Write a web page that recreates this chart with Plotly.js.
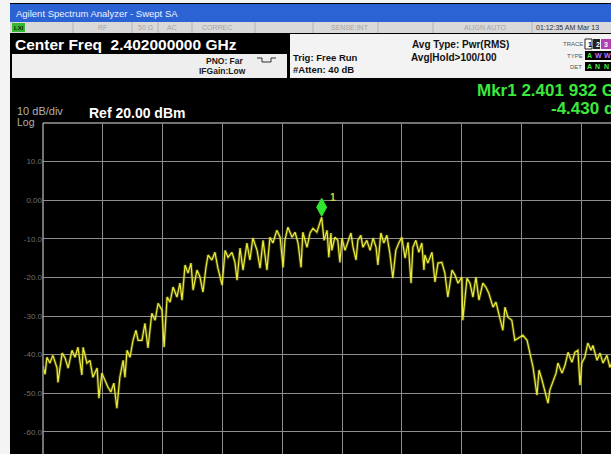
<!DOCTYPE html>
<html><head><meta charset="utf-8">
<script src="https://cdn.plot.ly/plotly-3.0.1.min.js"></script>
<style>html,body{margin:0;padding:0;background:#000;overflow:hidden}#chart{width:611px;height:454px}</style>
</head><body><div id="chart"></div>
<script>
// ---- data ----
const freqMHz = [
2401.000,2401.007,2401.013,2401.023,2401.033,2401.047,2401.050,2401.064,2401.074,2401.084,
2401.097,2401.107,2401.117,2401.130,2401.134,2401.147,2401.157,2401.167,2401.181,2401.187,
2401.197,2401.207,2401.217,2401.227,2401.237,2401.247,2401.257,2401.268,2401.274,2401.281,
2401.291,2401.301,2401.311,2401.318,
2401.331,2401.341,2401.351,2401.364,2401.375,2401.385,2401.398,2401.405,2401.415,2401.425,
2401.435,2401.448,2401.458,2401.465,2401.475,2401.485,2401.495,2401.502,2401.515,2401.525,
2401.535,2401.545,2401.552,2401.565,2401.575,2401.585,2401.599,2401.609,2401.619,2401.632,
2401.642,2401.649,2401.659,2401.669,2401.682,2401.692,2401.702,2401.716,2401.726,2401.736,
2401.749,2401.759,2401.769,2401.782,2401.793,2401.803,2401.809,2401.819,2401.833,2401.843,
2401.853,2401.863,2401.869,2401.883,2401.893,2401.903,2401.916,2401.932,2401.940,2401.950,
2401.956,
2401.963,2401.966,2401.976,2401.986,2401.993,2402.000,2402.010,2402.020,2402.030,2402.037,
2402.047,2402.053,2402.063,2402.070,2402.083,2402.094,2402.104,2402.114,2402.120,2402.130,
2402.140,2402.150,2402.160,2402.170,2402.180,2402.190,2402.200,2402.211,2402.221,2402.231,
2402.237,2402.247,2402.257,2402.267,2402.274,
2402.277,2402.287,2402.301,2402.311,2402.321,2402.334,2402.344,2402.354,2402.368,2402.378,
2402.388,2402.401,2402.404,2402.418,2402.428,2402.438,2402.448,2402.458,2402.471,2402.481,
2402.491,2402.505,2402.515,2402.525,2402.538,2402.545,2402.555,2402.568,2402.578,
2402.588,2402.595,2402.605,2402.619,2402.629,2402.639,2402.652,2402.659,2402.669,2402.679,
2402.689,2402.695,2402.705,2402.716,2402.722,2402.736,2402.746,2402.756,2402.769,2402.779,
2402.789,2402.796,2402.802,2402.812,2402.822,2402.833,2402.839,2402.853,2402.863,2402.873,
2402.886,2402.896,2402.906];
const levelDbm = [
-43.0,-45.1,-40.7,-42.2,-40.2,-43.5,-47.2,-39.6,-40.9,-43.5,
-38.9,-40.7,-38.1,-45.3,-38.1,-42.2,-41.5,-45.9,-43.5,-51.3,
-44.8,-46.6,-48.4,-49.7,-47.4,-53.9,-45.9,-41.5,-45.9,-38.9,
-40.7,-36.3,-33.7,-36.3,
-36.3,-31.9,-38.3,-29.3,-31.1,-26.7,-28.5,-38.1,-25.1,-26.4,
-22.5,-25.1,-21.5,-25.9,-16.8,-18.9,-16.3,-23.3,-18.1,-19.9,
-23.8,-17.4,-14.2,-15.5,-13.5,-17.6,-22.0,-13.0,-14.8,-13.5,
-16.1,-20.7,-12.4,-18.1,-11.1,-15.5,-9.8,-13.0,-17.6,-10.4,
-18.1,-9.6,-11.1,-7.8,-9.6,-17.4,-10.4,-7.0,-9.6,-8.3,
-11.1,-17.4,-8.3,-12.2,-8.5,-7.3,-8.3,-4.43,-10.4,-7.8,
-14.8,
-8.5,-13.0,-9.6,-10.4,-16.1,-9.8,-13.0,-10.9,-8.5,-12.2,
-15.5,-10.4,-9.1,-12.2,-10.4,-13.0,-9.8,-12.2,-16.8,-8.5,
-11.1,-9.1,-13.7,-20.2,-13.0,-11.1,-9.6,-15.0,-10.9,-21.5,
-12.2,-10.4,-13.5,-11.1,-18.1,
-14.2,-16.3,-13.5,-21.2,-16.3,-16.1,-18.9,-25.1,-18.1,-19.4,
-21.5,-19.9,-31.1,-20.2,-21.5,-25.1,-19.9,-25.9,-21.5,-22.5,
-24.1,-27.7,-26.4,-29.3,-33.7,-27.7,-30.3,-31.1,-36.3,
-35.8,-35.5,-35.0,-36.3,-39.6,-43.3,-50.5,-44.0,-46.6,-49.7,
-52.6,-49.2,-47.2,-44.8,-42.2,-44.8,-42.7,-39.4,-42.0,-39.4,
-38.9,-47.9,-42.2,-40.7,-37.0,-38.9,-37.6,-41.5,-39.6,-42.2,
-40.2,-43.3,-41.5];
const yTickVals = [10, 0, -10, -20, -30, -40, -50, -60];
const yTickText = ["10.0", "0.00", "-10.0", "-20.0", "-30.0", "-40.0", "-50.0", "-60.0"];
const refLevelDbm = 20;
const dbPerDiv = 10;
const startMHz = 2401.0;
const mhzPerDiv = 0.2;
const mkrFreqMHz = 2401.932;
const mkrLevelDbm = -4.43;
const statusLabels = ["RF", "50 \u03a9", "AC", "CORREC", "SENSE:INT", "ALIGN AUTO"];

// ---- geometry / style ----
const W = 611, H = 454, L = 43, T = 123;
const pxPerDiv = 59.8, pxPerDb = 3.86;
const visibleDivs = (W - L) / pxPerDiv;
const yBottom = refLevelDbm - (H - T) / pxPerDb;
const px = x => (x - L) / (W - L);
const py = y => (H - y) / (H - T);
const FONT = 'Liberation Sans, Arial, sans-serif';

const shapes = [];
const ann = [];
function rect(x0, y0, x1, y1, fill, lineColor) {
  shapes.push({type: 'rect', xref: 'paper', yref: 'paper', layer: 'above',
    x0: px(x0), x1: px(x1), y0: py(y1), y1: py(y0), fillcolor: fill,
    line: lineColor ? {color: lineColor, width: 1} : {width: 0}});
}
function line(x0, y0, x1, y1, color, w) {
  shapes.push({type: 'line', xref: 'paper', yref: 'paper', layer: 'above',
    x0: px(x0), x1: px(x1), y0: py(y0), y1: py(y1), line: {color: color, width: w || 1}});
}
function txt(text, x, y, size, color, opts) {
  opts = opts || {};
  ann.push({xref: 'paper', yref: 'paper', x: px(x), y: py(y), text: text, showarrow: false,
    xanchor: opts.anchor || 'left', yanchor: 'middle', borderpad: 0,
    font: {family: FONT, size: size, color: color, weight: opts.bold ? 'bold' : 'normal'}});
}

// white frame
rect(0, 0, 10, H, '#f4f4f4');
rect(0, 0, W, 3, '#f4f4f4');
// title bar
rect(10, 4, W, 22, '#2c63d4');
txt('Agilent Spectrum Analyzer - Swept SA', 15, 13.5, 9.5, '#eef2ff');
// status bar
rect(10, 22, W, 33, '#d9d9d9');
rect(12, 23, 25, 32, '#36b836');
txt('LXI', 12.5, 27.5, 6, '#102010', {bold: true});
[73, 132, 158, 192, 255, 313, 378, 433, 532].forEach(x => line(x, 22, x, 33, '#b4b4b4'));
const statusX = [97, 137, 166, 201, 330, 463];
statusLabels.forEach((s, i) => txt(s, statusX[i], 27.5, 7, '#a4a4a4'));
txt('01:12:35 AM Mar 13', 535, 27.5, 7, '#303030');
// center freq block
txt('Center Freq  2.402000000 GHz', 14, 44, 15.5, '#ffffff', {bold: true});
rect(12, 54, 287, 78, '#eeeeee');
txt('PNO: Far', 245, 61, 8.5, '#1a1a1a', {anchor: 'right', bold: true});
txt('IFGain:Low', 247, 71, 8.5, '#1a1a1a', {anchor: 'right', bold: true});
shapes.push({type: 'path', xref: 'paper', yref: 'paper', layer: 'above',
  path: `M${px(257)},${py(58)} L${px(262)},${py(58)} L${px(262)},${py(62)} L${px(271)},${py(62)} L${px(271)},${py(58)} L${px(276)},${py(58)}`,
  line: {color: '#333', width: 1}});
// right info panel
rect(290, 34, W, 78, '#f3f3f3');
txt('Trig: Free Run', 292, 57, 9.5, '#111', {bold: true});
txt('#Atten: 40 dB', 292, 70, 9.5, '#111', {bold: true});
txt('Avg Type: Pwr(RMS)', 411, 44, 10, '#111', {bold: true});
txt('Avg|Hold>100/100', 410, 57, 10, '#111', {bold: true});
txt('TRACE', 562, 44, 6, '#555');
txt('TYPE', 566, 56, 6, '#555');
txt('DET', 569, 67, 6, '#555');
rect(585, 39, 592, 49, '#ffffff', '#222');
txt('1', 586.5, 44, 7, '#000', {bold: true});
rect(593, 39, 600, 49, '#222');
txt('2', 594.5, 44, 7, '#fff', {bold: true});
rect(601, 39, W, 49, '#b040b0');
txt('3', 603, 44, 7, '#fff', {bold: true});
rect(585, 51, W, 60, '#000');
txt('A', 586, 55.5, 7, '#44ee44', {bold: true});
txt('W', 594, 55.5, 7, '#c070ff', {bold: true});
txt('W', 603, 55.5, 7, '#c070ff', {bold: true});
rect(585, 62, W, 71, '#000');
txt('A', 586, 66.5, 7, '#44ee44', {bold: true});
txt('N', 594, 66.5, 7, '#44ee44', {bold: true});
txt('N', 603, 66.5, 7, '#44ee44', {bold: true});
// marker readout (cut by the right edge, as in the reference)
const ghz = (mkrFreqMHz / 1000).toFixed(6);
const mkrText = 'Mkr1 ' + ghz.slice(0, 5) + ' ' + ghz.slice(5) + ' GHz';
txt(mkrText, 476, 91, 17, '#3ce83c', {bold: true});
txt(mkrLevelDbm.toFixed(3) + ' dBm', 550, 108, 17, '#3ce83c', {bold: true});
// scale labels
txt(dbPerDiv + ' dB/div', 16, 111.5, 11, '#b0b0b0');
txt('Log', 16, 122, 10.5, '#b0b0b0');
txt('Ref ' + refLevelDbm.toFixed(2) + ' dBm', 88, 113, 14, '#ffffff', {bold: true});
// plot frame top/left
shapes.push({type: 'line', xref: 'paper', yref: 'paper', x0: 0, x1: 1, y0: 1, y1: 1, line: {color: '#9a9a9a', width: 1.5}});
shapes.push({type: 'line', xref: 'paper', yref: 'paper', x0: 0, x1: 0, y0: 0, y1: 1, line: {color: '#9a9a9a', width: 1.5}});
// marker diamond, anchored at the marker point
shapes.push({type: 'path', xref: 'x', yref: 'y', xsizemode: 'pixel', ysizemode: 'pixel',
  xanchor: mkrFreqMHz, yanchor: mkrLevelDbm, layer: 'above',
  path: 'M0,1 L5,10 L0,19 L-5,10 Z', fillcolor: '#2ee62e', line: {color: '#2ee62e', width: 1}});
ann.push({xref: 'x', yref: 'y', x: mkrFreqMHz, y: mkrLevelDbm, xshift: 11, yshift: 20,
  text: '1', showarrow: false, font: {family: FONT, size: 10, color: '#d6d630', weight: 'bold'}});

const traces = [
  {x: freqMHz, y: levelDbm, type: 'scatter', mode: 'lines', hoverinfo: 'skip',
   line: {color: 'rgba(190,190,40,0.35)', width: 3}},
  {x: freqMHz, y: levelDbm, type: 'scatter', mode: 'lines',
   line: {color: '#ecec3a', width: 1.2}}
];

const layout = {
  width: W, height: H,
  margin: {l: L, r: 0, t: T, b: 0, pad: 0},
  paper_bgcolor: '#000', plot_bgcolor: '#000',
  showlegend: false,
  xaxis: {range: [startMHz, startMHz + visibleDivs * mhzPerDiv], tick0: startMHz, dtick: mhzPerDiv,
    showgrid: true, gridcolor: '#8e8e8e', gridwidth: 1, zeroline: false, showticklabels: false,
    ticks: '', showline: false},
  yaxis: {range: [yBottom, refLevelDbm], tickvals: yTickVals, ticktext: yTickText,
    showgrid: true, gridcolor: '#8e8e8e', gridwidth: 1, zeroline: false, ticks: '', showline: false,
    tickfont: {family: FONT, size: 8, color: '#707070'}},
  shapes: shapes,
  annotations: ann
};
Plotly.newPlot('chart', traces, layout, {staticPlot: true, displayModeBar: false});
</script>
</body></html>
